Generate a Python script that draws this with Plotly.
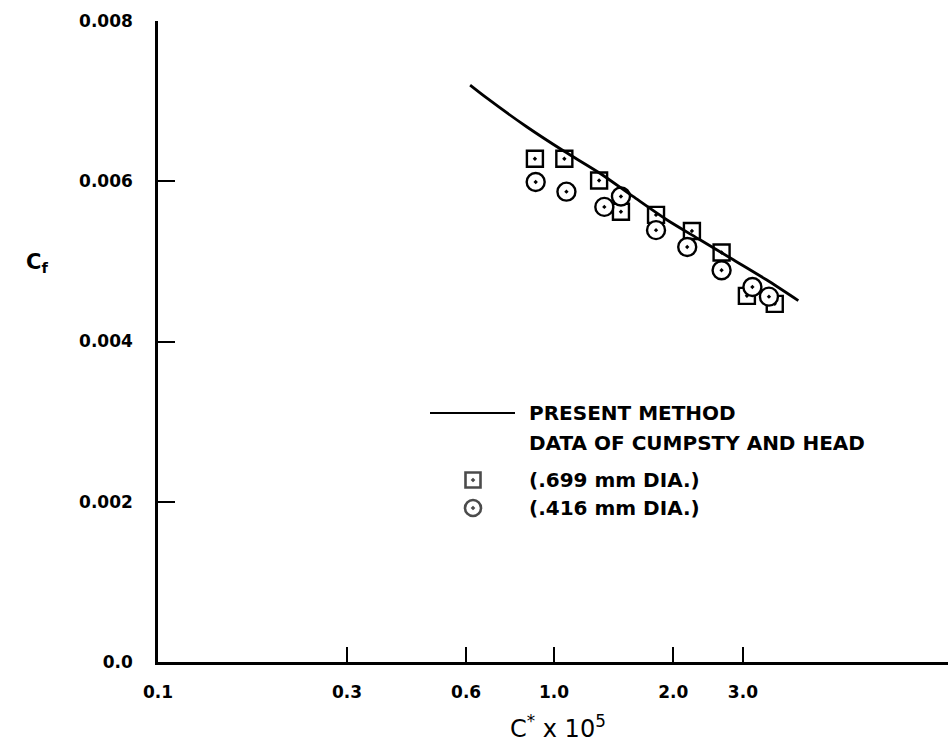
import plotly.graph_objects as go

# Present method: skin-friction prediction (solid curve)
method_x = [0.614, 0.676, 0.853, 1.056, 1.306, 1.583, 1.926, 2.337, 2.837, 3.44, 4.14]
method_cf = [0.00720, 0.00704, 0.00668, 0.00638, 0.00610, 0.00581, 0.00552,
             0.00527, 0.00502, 0.00477, 0.00451]

# Data of Cumpsty and Head, 0.699 mm diameter
sq_x = [0.895, 1.062, 1.30, 1.476, 1.81, 2.23, 2.65, 3.07, 3.61]
sq_cf = [0.00628, 0.00628, 0.00601, 0.00562, 0.00558, 0.00538, 0.00511, 0.00457, 0.00447]

# Data of Cumpsty and Head, 0.416 mm diameter
ci_x = [0.899, 1.075, 1.34, 1.476, 1.81, 2.17, 2.65, 3.17, 3.49]
ci_cf = [0.00599, 0.00587, 0.00568, 0.00581, 0.00539, 0.00518, 0.00489, 0.00468, 0.00456]

x_ticks = [0.1, 0.3, 0.6, 1.0, 2.0, 3.0]
x_tick_text = ["0.1", "0.3", "0.6", "1.0", "2.0", "3.0"]
y_ticks = [0.0, 0.002, 0.004, 0.006, 0.008]
y_tick_text = ["0.0", "0.002", "0.004", "0.006", "0.008"]

legend_rows = ["PRESENT METHOD", "DATA OF CUMPSTY AND HEAD",
               "(.699 mm DIA.)", "(.416 mm DIA.)"]

FONT = "DejaVu Sans"
INK = "black"

W, H = 948, 752
L, R, T, B = 158, 0, 21, 90
PW, PH = W - L - R, H - T - B


def px_x(p):
    return (p - L) / PW


def px_y(p):
    return (H - B - p) / PH


fig = go.Figure()

fig.add_trace(go.Scatter(
    x=sq_x, y=sq_cf, mode="markers", name="(.699 mm DIA.)",
    marker=dict(symbol="square-dot", size=16, color="white",
                line=dict(color=INK, width=2.4)),
    showlegend=False))

fig.add_trace(go.Scatter(
    x=ci_x, y=ci_cf, mode="markers", name="(.416 mm DIA.)",
    marker=dict(symbol="circle-dot", size=18, color="white",
                line=dict(color=INK, width=2.4)),
    showlegend=False))

fig.add_trace(go.Scatter(
    x=method_x, y=method_cf, mode="lines", name="PRESENT METHOD",
    line=dict(color=INK, width=2.8, shape="spline", smoothing=0.8),
    showlegend=False))

# legend keys on an overlay unit axis
fig.add_trace(go.Scatter(
    x=[px_x(473), px_x(473)], y=[px_y(480), px_y(508)],
    xaxis="x2", yaxis="y2", mode="markers",
    marker=dict(symbol=["square-dot", "circle-dot"], size=[15, 16], color="white",
                line=dict(color=INK, width=2.6)),
    showlegend=False, hoverinfo="skip"))

fig.update_layout(
    width=W, height=H,
    margin=dict(l=L, r=R, t=T, b=B),
    paper_bgcolor="white", plot_bgcolor="white",
    showlegend=False,
    font=dict(family=FONT, color=INK),
    xaxis=dict(
        type="log", range=[-1, 0.995],
        tickvals=x_ticks, ticktext=x_tick_text,
        ticks="inside", ticklen=15, tickwidth=2, tickcolor=INK,
        showline=True, linecolor=INK, linewidth=2.5,
        showgrid=False, zeroline=False,
        tickfont=dict(family=FONT, size=17, color=INK, weight="bold"),
        ticklabelstandoff=13,
    ),
    yaxis=dict(
        range=[0, 0.008],
        tickvals=y_ticks, ticktext=y_tick_text,
        ticks="inside", ticklen=17, tickwidth=2, tickcolor=INK,
        showline=True, linecolor=INK, linewidth=2.5,
        showgrid=False, zeroline=False,
        tickfont=dict(family=FONT, size=17, color=INK, weight="bold"),
        ticklabelstandoff=19,
    ),
    xaxis2=dict(overlaying="x", range=[0, 1], visible=False, fixedrange=True),
    yaxis2=dict(overlaying="y", range=[0, 1], visible=False, fixedrange=True),
)

# legend line
fig.add_shape(type="line", xref="paper", yref="paper",
              x0=px_x(430), x1=px_x(515), y0=px_y(413), y1=px_y(413),
              line=dict(color=INK, width=2))

for text, ypx in zip(legend_rows, [413, 443, 480, 508]):
    fig.add_annotation(text=text, xref="paper", yref="paper",
                       x=px_x(527), y=px_y(ypx), xanchor="left", yanchor="middle",
                       showarrow=False,
                       font=dict(family=FONT, size=20, color=INK, weight="bold"))

# axis titles
fig.add_annotation(text="C<sup>*</sup> x 10<sup>5</sup>", xref="paper", yref="paper",
                   x=px_x(558), y=px_y(727), xanchor="center", yanchor="middle",
                   showarrow=False, font=dict(family=FONT, size=24, color=INK))
fig.add_annotation(text="C<sub>f</sub>", xref="paper", yref="paper",
                   x=px_x(37), y=px_y(263), xanchor="center", yanchor="middle",
                   showarrow=False, font=dict(family=FONT, size=21, color=INK, weight="bold"))

fig.write_html("out.html")
